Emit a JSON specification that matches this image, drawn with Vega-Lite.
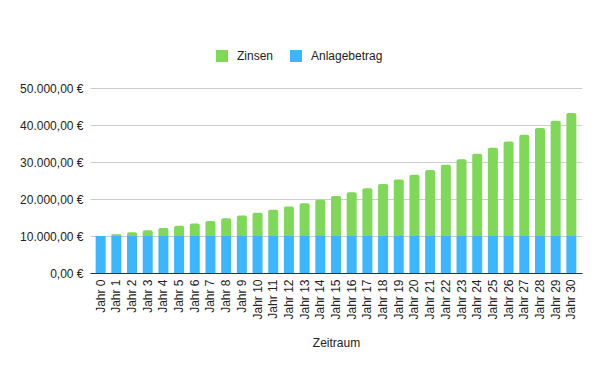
{
  "$schema": "https://vega.github.io/schema/vega-lite/v6.json",
  "width": 492,
  "height": 185,
  "autosize": {"type": "none"},
  "padding": {"left": 90, "top": 88, "right": 18, "bottom": 98},
  "config": {
    "font": "Liberation Sans",
    "view": {"stroke": null},
    "locale": {
      "number": {"decimal": ",", "thousands": ".", "grouping": [3], "currency": ["", " €"]}
    }
  },
  "data": {
    "values": [
      {"Jahr": "Jahr 0", "Typ": "Anlagebetrag", "Wert": 10000}, {"Jahr": "Jahr 0", "Typ": "Zinsen", "Wert": 0},
      {"Jahr": "Jahr 1", "Typ": "Anlagebetrag", "Wert": 10000}, {"Jahr": "Jahr 1", "Typ": "Zinsen", "Wert": 500},
      {"Jahr": "Jahr 2", "Typ": "Anlagebetrag", "Wert": 10000}, {"Jahr": "Jahr 2", "Typ": "Zinsen", "Wert": 1025},
      {"Jahr": "Jahr 3", "Typ": "Anlagebetrag", "Wert": 10000}, {"Jahr": "Jahr 3", "Typ": "Zinsen", "Wert": 1576.25},
      {"Jahr": "Jahr 4", "Typ": "Anlagebetrag", "Wert": 10000}, {"Jahr": "Jahr 4", "Typ": "Zinsen", "Wert": 2155.06},
      {"Jahr": "Jahr 5", "Typ": "Anlagebetrag", "Wert": 10000}, {"Jahr": "Jahr 5", "Typ": "Zinsen", "Wert": 2762.82},
      {"Jahr": "Jahr 6", "Typ": "Anlagebetrag", "Wert": 10000}, {"Jahr": "Jahr 6", "Typ": "Zinsen", "Wert": 3400.96},
      {"Jahr": "Jahr 7", "Typ": "Anlagebetrag", "Wert": 10000}, {"Jahr": "Jahr 7", "Typ": "Zinsen", "Wert": 4071.0},
      {"Jahr": "Jahr 8", "Typ": "Anlagebetrag", "Wert": 10000}, {"Jahr": "Jahr 8", "Typ": "Zinsen", "Wert": 4774.55},
      {"Jahr": "Jahr 9", "Typ": "Anlagebetrag", "Wert": 10000}, {"Jahr": "Jahr 9", "Typ": "Zinsen", "Wert": 5513.28},
      {"Jahr": "Jahr 10", "Typ": "Anlagebetrag", "Wert": 10000}, {"Jahr": "Jahr 10", "Typ": "Zinsen", "Wert": 6288.95},
      {"Jahr": "Jahr 11", "Typ": "Anlagebetrag", "Wert": 10000}, {"Jahr": "Jahr 11", "Typ": "Zinsen", "Wert": 7103.39},
      {"Jahr": "Jahr 12", "Typ": "Anlagebetrag", "Wert": 10000}, {"Jahr": "Jahr 12", "Typ": "Zinsen", "Wert": 7958.56},
      {"Jahr": "Jahr 13", "Typ": "Anlagebetrag", "Wert": 10000}, {"Jahr": "Jahr 13", "Typ": "Zinsen", "Wert": 8856.49},
      {"Jahr": "Jahr 14", "Typ": "Anlagebetrag", "Wert": 10000}, {"Jahr": "Jahr 14", "Typ": "Zinsen", "Wert": 9799.32},
      {"Jahr": "Jahr 15", "Typ": "Anlagebetrag", "Wert": 10000}, {"Jahr": "Jahr 15", "Typ": "Zinsen", "Wert": 10789.28},
      {"Jahr": "Jahr 16", "Typ": "Anlagebetrag", "Wert": 10000}, {"Jahr": "Jahr 16", "Typ": "Zinsen", "Wert": 11828.75},
      {"Jahr": "Jahr 17", "Typ": "Anlagebetrag", "Wert": 10000}, {"Jahr": "Jahr 17", "Typ": "Zinsen", "Wert": 12920.18},
      {"Jahr": "Jahr 18", "Typ": "Anlagebetrag", "Wert": 10000}, {"Jahr": "Jahr 18", "Typ": "Zinsen", "Wert": 14066.19},
      {"Jahr": "Jahr 19", "Typ": "Anlagebetrag", "Wert": 10000}, {"Jahr": "Jahr 19", "Typ": "Zinsen", "Wert": 15269.5},
      {"Jahr": "Jahr 20", "Typ": "Anlagebetrag", "Wert": 10000}, {"Jahr": "Jahr 20", "Typ": "Zinsen", "Wert": 16532.98},
      {"Jahr": "Jahr 21", "Typ": "Anlagebetrag", "Wert": 10000}, {"Jahr": "Jahr 21", "Typ": "Zinsen", "Wert": 17859.63},
      {"Jahr": "Jahr 22", "Typ": "Anlagebetrag", "Wert": 10000}, {"Jahr": "Jahr 22", "Typ": "Zinsen", "Wert": 19252.61},
      {"Jahr": "Jahr 23", "Typ": "Anlagebetrag", "Wert": 10000}, {"Jahr": "Jahr 23", "Typ": "Zinsen", "Wert": 20715.24},
      {"Jahr": "Jahr 24", "Typ": "Anlagebetrag", "Wert": 10000}, {"Jahr": "Jahr 24", "Typ": "Zinsen", "Wert": 22251.0},
      {"Jahr": "Jahr 25", "Typ": "Anlagebetrag", "Wert": 10000}, {"Jahr": "Jahr 25", "Typ": "Zinsen", "Wert": 23863.55},
      {"Jahr": "Jahr 26", "Typ": "Anlagebetrag", "Wert": 10000}, {"Jahr": "Jahr 26", "Typ": "Zinsen", "Wert": 25556.73},
      {"Jahr": "Jahr 27", "Typ": "Anlagebetrag", "Wert": 10000}, {"Jahr": "Jahr 27", "Typ": "Zinsen", "Wert": 27334.56},
      {"Jahr": "Jahr 28", "Typ": "Anlagebetrag", "Wert": 10000}, {"Jahr": "Jahr 28", "Typ": "Zinsen", "Wert": 29201.29},
      {"Jahr": "Jahr 29", "Typ": "Anlagebetrag", "Wert": 10000}, {"Jahr": "Jahr 29", "Typ": "Zinsen", "Wert": 31161.36},
      {"Jahr": "Jahr 30", "Typ": "Anlagebetrag", "Wert": 10000}, {"Jahr": "Jahr 30", "Typ": "Zinsen", "Wert": 33219.42}
    ]
  },
  "transform": [
    {"stack": "Wert", "groupby": ["Jahr"], "sort": [{"field": "Typ", "order": "ascending"}], "as": ["v0", "v1"]}
  ],
  "encoding": {
    "x": {
      "field": "Jahr",
      "type": "nominal",
      "sort": null,
      "scale": {"paddingInner": 0.363, "paddingOuter": 0.36},
      "axis": {
        "title": "Zeitraum",
        "labelAngle": -90,
        "labelFontSize": 12,
        "labelColor": "#222222",
        "labelPadding": 6,
        "ticks": false,
        "domainColor": "#333333",
        "titleFontSize": 12,
        "titleFontWeight": "normal",
        "titleColor": "#222222",
        "titlePadding": 18
      }
    },
    "y": {
      "field": "v1",
      "type": "quantitative",
      "scale": {"domain": [0, 50000]},
      "axis": {
        "title": null,
        "tickCount": 5,
        "format": ",.2f",
        "labelExpr": "datum.label + ' €'",
        "labelFontSize": 12,
        "labelColor": "#222222",
        "labelPadding": 7,
        "ticks": false,
        "domain": false,
        "gridColor": "#cccccc"
      }
    },
    "y2": {"field": "v0"},
    "color": {
      "field": "Typ",
      "type": "nominal",
      "scale": {"domain": ["Zinsen", "Anlagebetrag"], "range": ["#7fd858", "#3cb6ff"]},
      "legend": {
        "title": null,
        "orient": "none",
        "direction": "horizontal",
        "legendX": 126,
        "legendY": -38,
        "symbolType": "square",
        "symbolSize": 144,
        "symbolStrokeWidth": 0,
        "labelFontSize": 12,
        "labelColor": "#222222",
        "labelOffset": 9,
        "columnPadding": 16
      }
    }
  },
  "layer": [
    {"transform": [{"filter": "datum.Typ === 'Anlagebetrag'"}], "mark": {"type": "bar"}},
    {"transform": [{"filter": "datum.Typ === 'Zinsen'"}], "mark": {"type": "bar", "cornerRadiusTopLeft": 2, "cornerRadiusTopRight": 2}}
  ]
}
